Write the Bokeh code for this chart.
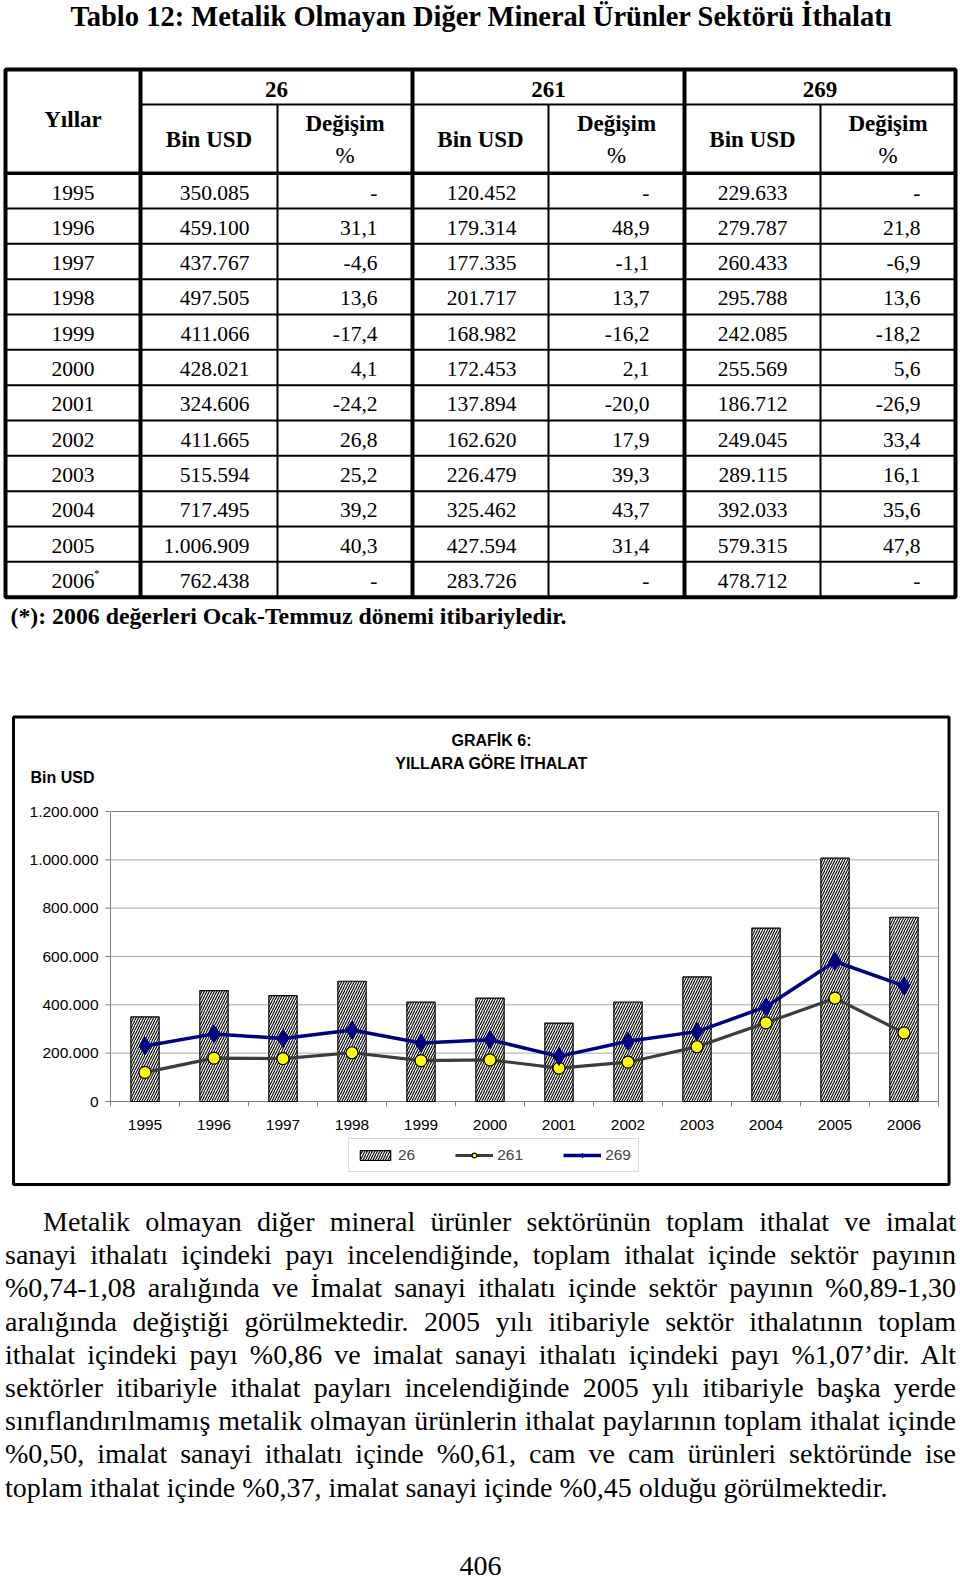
from bokeh.plotting import figure
from bokeh.models import (Range1d, ColumnDataSource, Legend, LegendItem, Div)
from bokeh.layouts import column
from bokeh.embed import file_html
from bokeh.resources import INLINE
from bokeh.core.properties import value

# ---------------- data ----------------
years = ["1995", "1996", "1997", "1998", "1999", "2000",
         "2001", "2002", "2003", "2004", "2005", "2006"]
year_notes = ["", "", "", "", "", "", "", "", "", "", "", "*"]
groups = ["26", "261", "269"]

imp_26 = [350085, 459100, 437767, 497505, 411066, 428021,
          324606, 411665, 515594, 717495, 1006909, 762438]
chg_26 = ["-", "31,1", "-4,6", "13,6", "-17,4", "4,1",
          "-24,2", "26,8", "25,2", "39,2", "40,3", "-"]
imp_261 = [120452, 179314, 177335, 201717, 168982, 172453,
           137894, 162620, 226479, 325462, 427594, 283726]
chg_261 = ["-", "48,9", "-1,1", "13,7", "-16,2", "2,1",
           "-20,0", "17,9", "39,3", "43,7", "31,4", "-"]
imp_269 = [229633, 279787, 260433, 295788, 242085, 255569,
           186712, 249045, 289115, 392033, 579315, 478712]
chg_269 = ["-", "21,8", "-6,9", "13,6", "-18,2", "5,6",
           "-26,9", "33,4", "16,1", "35,6", "47,8", "-"]

y_ticks = [0, 200000, 400000, 600000, 800000, 1000000, 1200000]
y_tick_labels = ["0", "200.000", "400.000", "600.000", "800.000", "1.000.000", "1.200.000"]

title_text = "Tablo 12: Metalik Olmayan Diğer Mineral Ürünler Sektörü İthalatı"
footnote_text = "(*): 2006 değerleri Ocak-Temmuz dönemi itibariyledir."
chart_title = ["GRAFİK 6:", "YILLARA GÖRE İTHALAT"]
y_unit = "Bin USD"
para_lines = [
    "Metalik olmayan diğer mineral ürünler sektörünün toplam ithalat ve imalat",
    "sanayi ithalatı içindeki payı incelendiğinde, toplam ithalat içinde sektör payının",
    "%0,74-1,08 aralığında ve İmalat sanayi ithalatı içinde sektör payının %0,89-1,30",
    "aralığında değiştiği görülmektedir. 2005 yılı itibariyle sektör ithalatının toplam",
    "ithalat içindeki payı %0,86 ve imalat sanayi ithalatı içindeki payı %1,07’dir. Alt",
    "sektörler itibariyle ithalat payları incelendiğinde 2005 yılı itibariyle başka yerde",
    "sınıflandırılmamış metalik olmayan ürünlerin ithalat paylarının toplam ithalat içinde",
    "%0,50, imalat sanayi ithalatı içinde %0,61, cam ve cam ürünleri sektöründe ise",
    "toplam ithalat içinde %0,37, imalat sanayi içinde %0,45 olduğu görülmektedir.",
]
page_number = "406"

SERIF = "Liberation Serif"
SANS = "Liberation Sans"


def fmt(v):
    return f"{v:,}".replace(",", ".")


# ---------------- main canvas (page pixel coordinates) ----------------
X0, X1 = 0, 960
Y0, Y1 = 0, 1186
p = figure(width=X1 - X0, height=Y1 - Y0, x_range=Range1d(X0, X1), y_range=Range1d(Y1, Y0),
           output_backend="svg", toolbar_location=None, tools="", title=None,
           x_axis_location=None, y_axis_location=None, min_border=0,
           outline_line_color=None)
p.grid.visible = False

# ---- title ----
p.text(x=[481], y=[16], text=[title_text], text_font=value(SERIF),
       text_font_style="bold", text_font_size="28.5px", text_align="center",
       text_baseline="middle", text_color="black")

# ---- table ----
col_edges = [5, 140, 277, 412, 548, 684, 820, 955]
top_y, sub_y, head_y, row_h = 69, 104, 172.7, 35.33
n = len(years)
bottom_y = head_y + n * row_h

p.quad(left=[col_edges[0]], right=[col_edges[-1]], top=[top_y], bottom=[bottom_y],
       fill_color=None, line_color="black", line_width=4)
p.segment(x0=[col_edges[1], col_edges[3], col_edges[5]], x1=[col_edges[1], col_edges[3], col_edges[5]],
          y0=[top_y] * 3, y1=[bottom_y] * 3, line_color="black", line_width=4)
p.segment(x0=[col_edges[2], col_edges[4], col_edges[6]], x1=[col_edges[2], col_edges[4], col_edges[6]],
          y0=[sub_y] * 3, y1=[bottom_y] * 3, line_color="black", line_width=2)
p.segment(x0=[col_edges[1]], x1=[col_edges[-1]], y0=[sub_y], y1=[sub_y],
          line_color="black", line_width=2)
p.segment(x0=[col_edges[0]], x1=[col_edges[-1]], y0=[head_y], y1=[head_y],
          line_color="black", line_width=3.5)
rows_y = [head_y + k * row_h for k in range(1, n)]
p.segment(x0=[col_edges[0]] * len(rows_y), x1=[col_edges[-1]] * len(rows_y),
          y0=rows_y, y1=rows_y, line_color="black", line_width=2)

hb = dict(text_font=value(SERIF), text_font_style="bold", text_font_size="23px",
          text_align="center", text_baseline="middle", text_color="black")
year_cx = (col_edges[0] + col_edges[1]) / 2
p.text(x=[year_cx], y=[119], text=["Yıllar"], **hb)
gx = [(col_edges[1] + col_edges[3]) / 2, (col_edges[3] + col_edges[5]) / 2, (col_edges[5] + col_edges[7]) / 2]
p.text(x=gx, y=[89] * 3, text=groups, **hb)
bx = [(col_edges[1] + col_edges[2]) / 2, (col_edges[3] + col_edges[4]) / 2, (col_edges[5] + col_edges[6]) / 2]
p.text(x=bx, y=[139] * 3, text=["Bin USD"] * 3, **hb)
dx = [(col_edges[2] + col_edges[3]) / 2, (col_edges[4] + col_edges[5]) / 2, (col_edges[6] + col_edges[7]) / 2]
p.text(x=dx, y=[123] * 3, text=["Değişim"] * 3, **hb)
p.text(x=dx, y=[155] * 3, text=["%"] * 3, **dict(hb, text_font_style="normal"))

mid = [192 + i * row_h for i in range(n)]
tb = dict(text_font=value(SERIF), text_font_size="21.5px", text_baseline="middle",
          text_color="black")
p.text(x=[year_cx] * n, y=mid, text=years, text_align="center", **tb)
p.text(x=[year_cx + 21] * n, y=[m - 8 for m in mid], text=year_notes,
       text_align="left", text_font=value(SERIF), text_font_size="11px",
       text_baseline="middle", text_color="black")
bin_right = [249, 516, 787]
chg_right = [377, 649, 920]
for vals, chg, br, cr in zip([imp_26, imp_261, imp_269], [chg_26, chg_261, chg_269], bin_right, chg_right):
    p.text(x=[br] * n, y=mid, text=[fmt(v) for v in vals], text_align="right", **tb)
    p.text(x=[cr] * n, y=mid, text=chg, text_align="right", **tb)

p.text(x=[10], y=[615], text=[footnote_text], text_font=value(SERIF), text_font_style="bold",
       text_font_size="23.8px", text_align="left", text_baseline="middle", text_color="black")

# ---------------- chart (own scales mapped onto the plot area) ----------------
PA_L, PA_R, PA_T, PA_B = 110, 938, 811, 1101      # plot area in page pixels
kx = len(years) / (PA_R - PA_L)
ky = y_ticks[-1] / (PA_B - PA_T)
p.extra_x_ranges = {"cx": Range1d(-(PA_L - X0) * kx, len(years) + (X1 - PA_R) * kx)}
p.extra_y_ranges = {"cy": Range1d(-(Y1 - PA_B) * ky, y_ticks[-1] + (PA_T - Y0) * ky)}
C = dict(x_range_name="cx", y_range_name="cy")

# outer chart border
p.quad(left=[13], right=[948.5], top=[716.5], bottom=[1184], fill_color=None,
       line_color="black", line_width=3)

xs = [i + 0.5 for i in range(len(years))]
src = ColumnDataSource(dict(x=xs, v26=imp_26, v261=imp_261, v269=imp_269, year=years))

# grid
p.segment(x0=[0] * len(y_ticks), x1=[len(years)] * len(y_ticks), y0=y_ticks, y1=y_ticks,
          line_color="#a8a8a8", line_width=1, **C)
# plot-area frame
p.quad(left=[0], right=[len(years)], bottom=[0], top=[y_ticks[-1]], fill_color=None,
       line_color="#808080", line_width=1, **C)
# y axis ticks and labels
p.segment(x0=[PA_L - 5] * len(y_ticks), x1=[PA_L] * len(y_ticks), y0=y_ticks, y1=y_ticks,
          line_color="#808080", line_width=1, y_range_name="cy")
p.text(x=[PA_L - 12] * len(y_ticks), y=y_ticks, text=y_tick_labels, text_align="right",
       text_baseline="middle", text_font=value(SANS), text_font_size="15.5px",
       text_color="black", y_range_name="cy")
# x axis ticks (between categories) and labels
bounds = list(range(len(years) + 1))
p.segment(x0=bounds, x1=bounds, y0=[PA_B] * len(bounds), y1=[PA_B + 5] * len(bounds),
          line_color="#808080", line_width=1, x_range_name="cx")
p.text(x=xs, y=[PA_B + 23] * len(years), text=years, text_align="center",
       text_baseline="middle", text_font=value(SANS), text_font_size="15.5px",
       text_color="black", x_range_name="cx")

bars = p.vbar(x="x", top="v26", bottom=0, width=0.41, source=src, fill_color="white",
              line_color="black", line_width=1.2, hatch_pattern="/", hatch_color="black",
              hatch_scale=5, hatch_weight=1.1, **C)
l261 = p.line(x="x", y="v261", source=src, line_color="#3c3c3c", line_width=3.2, **C)
s261 = p.scatter(x="x", y="v261", source=src, marker="circle", size=12,
                 fill_color="#ffff00", line_color="black", line_width=1.2, **C)
l269 = p.line(x="x", y="v269", source=src, line_color="#000080", line_width=3.5, **C)
s269 = p.scatter(x="x", y="v269", source=src, marker="diamond", size=18,
                 fill_color="#000080", line_color="#000080", **C)

# titles
tt = dict(text_font=value(SANS), text_font_style="bold", text_font_size="16px",
          text_color="black", text_baseline="middle")
p.text(x=[491, 491], y=[740, 763], text=chart_title, text_align="center", **tt)
p.text(x=[30], y=[777], text=[y_unit], text_align="left", **tt)

legend = Legend(items=[LegendItem(label=groups[0], renderers=[bars]),
                       LegendItem(label=groups[1], renderers=[l261, s261]),
                       LegendItem(label=groups[2], renderers=[l269, s269])],
                orientation="horizontal", location=(348, Y1 - 1172),
                glyph_width=38, glyph_height=12, label_standoff=4, spacing=40,
                padding=7, margin=0, label_width=0, label_height=15,
                border_line_color="#b4b4b4", border_line_width=1,
                label_text_font=SANS, label_text_font_size="15.5px",
                background_fill_color="white", background_fill_alpha=1)
p.add_layout(legend)

# ---------------- paragraph ----------------
PARA_H = 390  # page y 1186 .. 1576
parts = []
for i, ln in enumerate(para_lines):
    last = i == len(para_lines) - 1
    align = "text-align:left;" if last else "text-align:justify;text-align-last:justify;"
    indent = "text-indent:38px;" if i == 0 else ""
    parts.append(f'<div style="{align}{indent}white-space:normal;">{ln}</div>')
html = (
    f'<div style="position:relative;left:0px;width:951px;height:{PARA_H}px;'
    f"font-family:'{SERIF}';font-size:28px;line-height:33.2px;color:#000;"
    'padding-top:14px;box-sizing:border-box;overflow:visible;">'
    + "".join(parts)
    + f'<div style="position:absolute;left:0;width:951px;top:361px;text-align:center;'
      f'line-height:28px;font-size:28px;">{page_number}</div>'
    + "</div>"
)
para = Div(text=html, width=960, height=PARA_H, styles={"overflow": "visible"})

page = column(p, para, spacing=0)
open("out.html", "w").write(file_html(page, INLINE))
